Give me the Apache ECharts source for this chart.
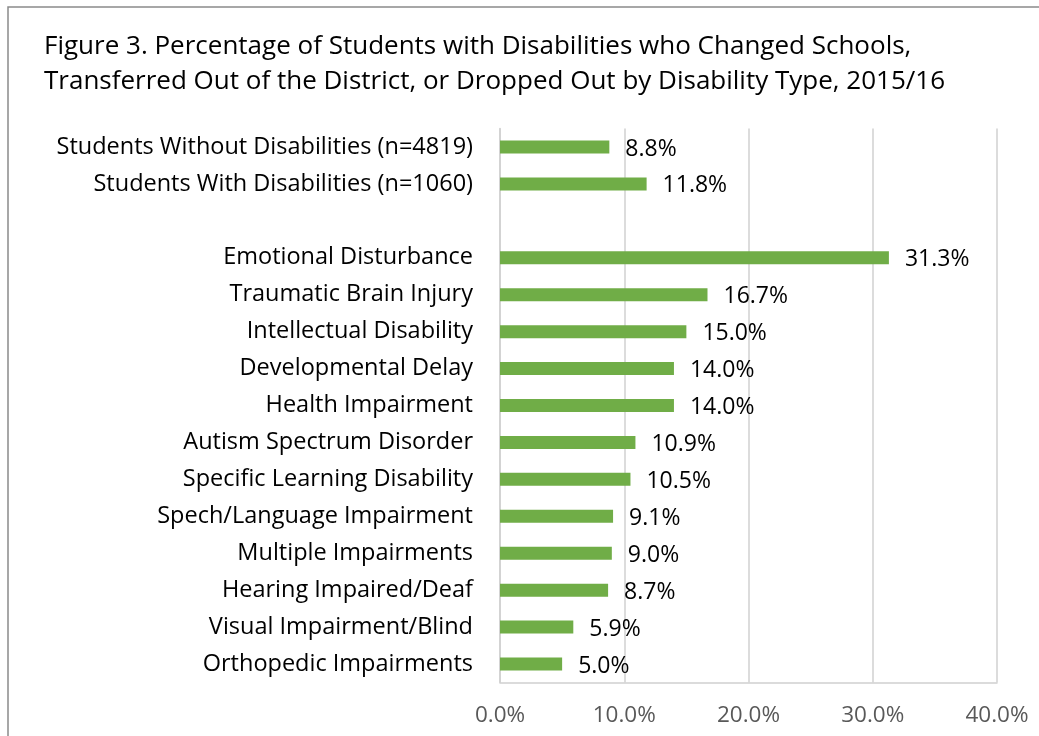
<!DOCTYPE html>
<html>
<head>
<meta charset="utf-8">
<script src="https://cdn.jsdelivr.net/npm/echarts@6/dist/echarts.min.js"></script>
<style>
html,body{margin:0;padding:0;background:#fff;}
#chart{width:1039px;height:736px;}
</style>
</head>
<body>
<div id="chart"></div>
<script>
const titleText = 'Figure 3. Percentage of Students with Disabilities who Changed Schools,\nTransferred Out of the District, or Dropped Out by Disability Type, 2015/16';
const categories = [
  'Students Without Disabilities (n=4819)',
  'Students With Disabilities (n=1060)',
  '',
  'Emotional Disturbance',
  'Traumatic Brain Injury',
  'Intellectual Disability',
  'Developmental Delay',
  'Health Impairment',
  'Autism Spectrum Disorder',
  'Specific Learning Disability',
  'Spech/Language Impairment',
  'Multiple Impairments',
  'Hearing Impaired/Deaf',
  'Visual Impairment/Blind',
  'Orthopedic Impairments'
];
const values = [8.8, 11.8, null, 31.3, 16.7, 15.0, 14.0, 14.0, 10.9, 10.5, 9.1, 9.0, 8.7, 5.9, 5.0];
const axisMin = 0, axisMax = 40, axisStep = 10;

const FONT = '"Open Sans", sans-serif';
const chart = echarts.init(document.getElementById('chart'));
chart.setOption({
  animation: false,
  backgroundColor: '#fff',
  title: {
    text: titleText,
    left: 39,
    top: 24,
    textStyle: {fontFamily: FONT, fontSize: 26, fontWeight: 'normal', color: '#000', lineHeight: 35}
  },
  graphic: [{
    type: 'rect',
    shape: {x: 8, y: 7, width: 1040, height: 740},
    style: {fill: 'none', stroke: '#8a8a8a', lineWidth: 1.5},
    silent: true
  }],
  grid: {left: 500, right: 42, top: 128.5, bottom: 53.5, containLabel: false},
  xAxis: {
    type: 'value',
    min: axisMin, max: axisMax, interval: axisStep,
    axisLine: {show: true, lineStyle: {color: '#d0d0d0', width: 1.5}},
    axisTick: {show: false},
    splitLine: {show: true, lineStyle: {color: '#d0d0d0', width: 1.5}},
    axisLabel: {
      formatter: v => v.toFixed(1) + '%',
      fontFamily: FONT, fontSize: 22.5, color: '#595959', margin: 22
    }
  },
  yAxis: {
    type: 'category',
    inverse: true,
    data: categories,
    axisLine: {show: true, lineStyle: {color: '#d0d0d0', width: 1.5}},
    axisTick: {show: false},
    axisLabel: {fontFamily: FONT, fontSize: 23.5, color: '#000', margin: 27, padding: [5, 0, 0, 0]}
  },
  series: [{
    type: 'bar',
    data: values,
    barWidth: 13,
    itemStyle: {color: '#70ad47'},
    label: {
      show: true,
      position: 'right',
      distance: 16,
      offset: [0, 2],
      formatter: p => p.value == null ? '' : p.value.toFixed(1) + '%',
      fontFamily: FONT, fontSize: 23, color: '#000'
    }
  }]
});
</script>
</body>
</html>
